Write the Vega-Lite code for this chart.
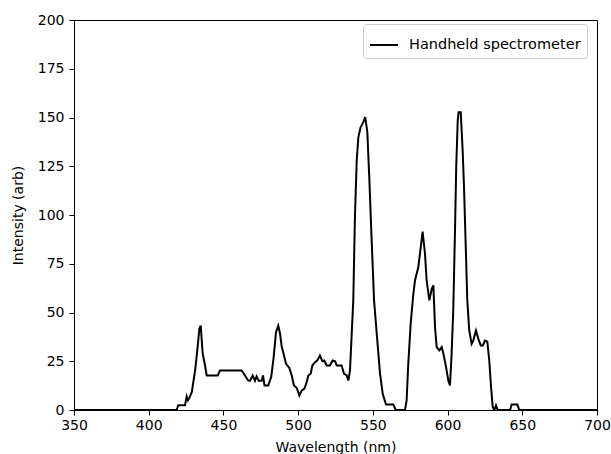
{
  "$schema": "https://vega.github.io/schema/vega-lite/v6.json",
  "width": 523,
  "height": 390,
  "autosize": {"type": "none"},
  "padding": {"left": 74, "top": 20, "right": 14, "bottom": 44},
  "background": "white",
  "config": {
    "view": {"stroke": "black", "strokeWidth": 1},
    "font": "DejaVu Sans",
    "axis": {
      "grid": false,
      "domainColor": "black",
      "tickColor": "black",
      "tickSize": 5,
      "labelFont": "DejaVu Sans",
      "labelFontSize": 14,
      "labelColor": "black",
      "titleFont": "DejaVu Sans",
      "titleFontSize": 14,
      "titleFontWeight": "normal",
      "titleColor": "black"
    }
  },
  "data": {
    "values": [
      {"wavelength": 350, "intensity": 0, "series": "Handheld spectrometer"},
      {"wavelength": 418.7, "intensity": 0, "series": "Handheld spectrometer"},
      {"wavelength": 419.8, "intensity": 2.5, "series": "Handheld spectrometer"},
      {"wavelength": 424.3, "intensity": 2.5, "series": "Handheld spectrometer"},
      {"wavelength": 425.4, "intensity": 7, "series": "Handheld spectrometer"},
      {"wavelength": 426.3, "intensity": 5, "series": "Handheld spectrometer"},
      {"wavelength": 427.2, "intensity": 6.2, "series": "Handheld spectrometer"},
      {"wavelength": 428.8, "intensity": 9.1, "series": "Handheld spectrometer"},
      {"wavelength": 431, "intensity": 20, "series": "Handheld spectrometer"},
      {"wavelength": 432.5, "intensity": 30.5, "series": "Handheld spectrometer"},
      {"wavelength": 433.9, "intensity": 41.8, "series": "Handheld spectrometer"},
      {"wavelength": 434.8, "intensity": 43.3, "series": "Handheld spectrometer"},
      {"wavelength": 436.1, "intensity": 29, "series": "Handheld spectrometer"},
      {"wavelength": 437.7, "intensity": 22.8, "series": "Handheld spectrometer"},
      {"wavelength": 438.8, "intensity": 17.7, "series": "Handheld spectrometer"},
      {"wavelength": 446.2, "intensity": 17.7, "series": "Handheld spectrometer"},
      {"wavelength": 447.7, "intensity": 20.3, "series": "Handheld spectrometer"},
      {"wavelength": 462.2, "intensity": 20.3, "series": "Handheld spectrometer"},
      {"wavelength": 464.4, "intensity": 17.7, "series": "Handheld spectrometer"},
      {"wavelength": 466.6, "intensity": 15.1, "series": "Handheld spectrometer"},
      {"wavelength": 467.8, "intensity": 15, "series": "Handheld spectrometer"},
      {"wavelength": 469.6, "intensity": 17.7, "series": "Handheld spectrometer"},
      {"wavelength": 471.1, "intensity": 15, "series": "Handheld spectrometer"},
      {"wavelength": 472.2, "intensity": 17.3, "series": "Handheld spectrometer"},
      {"wavelength": 473.6, "intensity": 15, "series": "Handheld spectrometer"},
      {"wavelength": 475.6, "intensity": 15, "series": "Handheld spectrometer"},
      {"wavelength": 476.5, "intensity": 17.7, "series": "Handheld spectrometer"},
      {"wavelength": 477.5, "intensity": 12.6, "series": "Handheld spectrometer"},
      {"wavelength": 480, "intensity": 12.6, "series": "Handheld spectrometer"},
      {"wavelength": 482, "intensity": 17, "series": "Handheld spectrometer"},
      {"wavelength": 483.6, "intensity": 27, "series": "Handheld spectrometer"},
      {"wavelength": 485.2, "intensity": 40, "series": "Handheld spectrometer"},
      {"wavelength": 486.7, "intensity": 43.3, "series": "Handheld spectrometer"},
      {"wavelength": 487.9, "intensity": 39.1, "series": "Handheld spectrometer"},
      {"wavelength": 489, "intensity": 32.5, "series": "Handheld spectrometer"},
      {"wavelength": 490, "intensity": 29.6, "series": "Handheld spectrometer"},
      {"wavelength": 491.9, "intensity": 23.7, "series": "Handheld spectrometer"},
      {"wavelength": 494.1, "intensity": 21.6, "series": "Handheld spectrometer"},
      {"wavelength": 495.7, "intensity": 17.7, "series": "Handheld spectrometer"},
      {"wavelength": 497.2, "intensity": 12.6, "series": "Handheld spectrometer"},
      {"wavelength": 499, "intensity": 11.4, "series": "Handheld spectrometer"},
      {"wavelength": 500.8, "intensity": 7.4, "series": "Handheld spectrometer"},
      {"wavelength": 502.4, "intensity": 10, "series": "Handheld spectrometer"},
      {"wavelength": 504.1, "intensity": 10.8, "series": "Handheld spectrometer"},
      {"wavelength": 505.7, "intensity": 14.2, "series": "Handheld spectrometer"},
      {"wavelength": 506.8, "intensity": 17.7, "series": "Handheld spectrometer"},
      {"wavelength": 508.4, "intensity": 18.6, "series": "Handheld spectrometer"},
      {"wavelength": 509.5, "intensity": 22.8, "series": "Handheld spectrometer"},
      {"wavelength": 511.3, "intensity": 24.5, "series": "Handheld spectrometer"},
      {"wavelength": 512.8, "intensity": 25.4, "series": "Handheld spectrometer"},
      {"wavelength": 514.6, "intensity": 27.9, "series": "Handheld spectrometer"},
      {"wavelength": 516.2, "intensity": 25, "series": "Handheld spectrometer"},
      {"wavelength": 517.5, "intensity": 25.4, "series": "Handheld spectrometer"},
      {"wavelength": 519.1, "intensity": 22.8, "series": "Handheld spectrometer"},
      {"wavelength": 521.3, "intensity": 22.8, "series": "Handheld spectrometer"},
      {"wavelength": 523.1, "intensity": 25.4, "series": "Handheld spectrometer"},
      {"wavelength": 524.7, "intensity": 25, "series": "Handheld spectrometer"},
      {"wavelength": 525.8, "intensity": 22.8, "series": "Handheld spectrometer"},
      {"wavelength": 529.1, "intensity": 22.8, "series": "Handheld spectrometer"},
      {"wavelength": 530.7, "intensity": 18.6, "series": "Handheld spectrometer"},
      {"wavelength": 532.5, "intensity": 17.7, "series": "Handheld spectrometer"},
      {"wavelength": 533.6, "intensity": 15.1, "series": "Handheld spectrometer"},
      {"wavelength": 534.7, "intensity": 20.3, "series": "Handheld spectrometer"},
      {"wavelength": 536.9, "intensity": 56.2, "series": "Handheld spectrometer"},
      {"wavelength": 538, "intensity": 98.9, "series": "Handheld spectrometer"},
      {"wavelength": 539.2, "intensity": 128, "series": "Handheld spectrometer"},
      {"wavelength": 540.3, "intensity": 139.9, "series": "Handheld spectrometer"},
      {"wavelength": 541.8, "intensity": 145, "series": "Handheld spectrometer"},
      {"wavelength": 543.6, "intensity": 147.6, "series": "Handheld spectrometer"},
      {"wavelength": 544.9, "intensity": 150.2, "series": "Handheld spectrometer"},
      {"wavelength": 546.3, "intensity": 142.5, "series": "Handheld spectrometer"},
      {"wavelength": 547.6, "intensity": 119.4, "series": "Handheld spectrometer"},
      {"wavelength": 549.2, "intensity": 86.9, "series": "Handheld spectrometer"},
      {"wavelength": 550.8, "intensity": 56.2, "series": "Handheld spectrometer"},
      {"wavelength": 552.6, "intensity": 39.1, "series": "Handheld spectrometer"},
      {"wavelength": 554.8, "intensity": 18.6, "series": "Handheld spectrometer"},
      {"wavelength": 556.6, "intensity": 8.3, "series": "Handheld spectrometer"},
      {"wavelength": 558.8, "intensity": 2.8, "series": "Handheld spectrometer"},
      {"wavelength": 563.7, "intensity": 2.8, "series": "Handheld spectrometer"},
      {"wavelength": 565.3, "intensity": 0, "series": "Handheld spectrometer"},
      {"wavelength": 571.5, "intensity": 0, "series": "Handheld spectrometer"},
      {"wavelength": 572.6, "intensity": 4.9, "series": "Handheld spectrometer"},
      {"wavelength": 573.7, "intensity": 23.7, "series": "Handheld spectrometer"},
      {"wavelength": 575.3, "intensity": 44.2, "series": "Handheld spectrometer"},
      {"wavelength": 577.1, "intensity": 59.6, "series": "Handheld spectrometer"},
      {"wavelength": 578.2, "intensity": 66.4, "series": "Handheld spectrometer"},
      {"wavelength": 580.4, "intensity": 73.2, "series": "Handheld spectrometer"},
      {"wavelength": 581.5, "intensity": 80.1, "series": "Handheld spectrometer"},
      {"wavelength": 583.3, "intensity": 91.5, "series": "Handheld spectrometer"},
      {"wavelength": 584.9, "intensity": 80, "series": "Handheld spectrometer"},
      {"wavelength": 586, "intensity": 66.4, "series": "Handheld spectrometer"},
      {"wavelength": 587.8, "intensity": 56.2, "series": "Handheld spectrometer"},
      {"wavelength": 589.4, "intensity": 62.2, "series": "Handheld spectrometer"},
      {"wavelength": 590.5, "intensity": 63.9, "series": "Handheld spectrometer"},
      {"wavelength": 591.6, "intensity": 42.5, "series": "Handheld spectrometer"},
      {"wavelength": 592.7, "intensity": 32.3, "series": "Handheld spectrometer"},
      {"wavelength": 594.5, "intensity": 30.6, "series": "Handheld spectrometer"},
      {"wavelength": 596.1, "intensity": 32.3, "series": "Handheld spectrometer"},
      {"wavelength": 597.2, "intensity": 28.9, "series": "Handheld spectrometer"},
      {"wavelength": 599, "intensity": 22, "series": "Handheld spectrometer"},
      {"wavelength": 600.5, "intensity": 15.1, "series": "Handheld spectrometer"},
      {"wavelength": 601.6, "intensity": 12.6, "series": "Handheld spectrometer"},
      {"wavelength": 602.6, "intensity": 27, "series": "Handheld spectrometer"},
      {"wavelength": 603.8, "intensity": 51, "series": "Handheld spectrometer"},
      {"wavelength": 605, "intensity": 93, "series": "Handheld spectrometer"},
      {"wavelength": 605.8, "intensity": 125, "series": "Handheld spectrometer"},
      {"wavelength": 606.8, "intensity": 148.5, "series": "Handheld spectrometer"},
      {"wavelength": 607.4, "intensity": 152.7, "series": "Handheld spectrometer"},
      {"wavelength": 608.8, "intensity": 152.7, "series": "Handheld spectrometer"},
      {"wavelength": 610.1, "intensity": 133, "series": "Handheld spectrometer"},
      {"wavelength": 611, "intensity": 114.3, "series": "Handheld spectrometer"},
      {"wavelength": 612.3, "intensity": 80.1, "series": "Handheld spectrometer"},
      {"wavelength": 613.2, "intensity": 56.2, "series": "Handheld spectrometer"},
      {"wavelength": 614.5, "intensity": 40.8, "series": "Handheld spectrometer"},
      {"wavelength": 616.1, "intensity": 33.9, "series": "Handheld spectrometer"},
      {"wavelength": 617.2, "intensity": 35.6, "series": "Handheld spectrometer"},
      {"wavelength": 619, "intensity": 40.8, "series": "Handheld spectrometer"},
      {"wavelength": 620.6, "intensity": 36.5, "series": "Handheld spectrometer"},
      {"wavelength": 622.2, "intensity": 33.1, "series": "Handheld spectrometer"},
      {"wavelength": 623.6, "intensity": 33.1, "series": "Handheld spectrometer"},
      {"wavelength": 625, "intensity": 35.6, "series": "Handheld spectrometer"},
      {"wavelength": 626.6, "intensity": 35, "series": "Handheld spectrometer"},
      {"wavelength": 627.9, "intensity": 25.4, "series": "Handheld spectrometer"},
      {"wavelength": 629.1, "intensity": 11.7, "series": "Handheld spectrometer"},
      {"wavelength": 630.2, "intensity": 1.5, "series": "Handheld spectrometer"},
      {"wavelength": 631.3, "intensity": 0, "series": "Handheld spectrometer"},
      {"wavelength": 632.4, "intensity": 2.3, "series": "Handheld spectrometer"},
      {"wavelength": 633.5, "intensity": 0, "series": "Handheld spectrometer"},
      {"wavelength": 641.8, "intensity": 0, "series": "Handheld spectrometer"},
      {"wavelength": 642.9, "intensity": 2.8, "series": "Handheld spectrometer"},
      {"wavelength": 646.7, "intensity": 2.8, "series": "Handheld spectrometer"},
      {"wavelength": 648, "intensity": 0, "series": "Handheld spectrometer"},
      {"wavelength": 700, "intensity": 0, "series": "Handheld spectrometer"}
    ]
  },
  "mark": {"type": "line", "strokeWidth": 2, "interpolate": "linear", "clip": true},
  "encoding": {
    "x": {
      "field": "wavelength",
      "type": "quantitative",
      "scale": {"domain": [350, 700], "nice": false},
      "axis": {"values": [350, 400, 450, 500, 550, 600, 650, 700], "title": "Wavelength (nm)", "labelPadding": 3, "titlePadding": 8, "labelFlush": false}
    },
    "y": {
      "field": "intensity",
      "type": "quantitative",
      "scale": {"domain": [0, 200], "nice": false},
      "axis": {"values": [0, 25, 50, 75, 100, 125, 150, 175, 200], "title": "Intensity (arb)", "labelPadding": 5, "titlePadding": 12, "labelFlush": false}
    },
    "color": {
      "field": "series",
      "type": "nominal",
      "scale": {"range": ["black"]},
      "legend": {
        "title": null,
        "orient": "none",
        "legendX": 289,
        "legendY": 4,
        "symbolType": "stroke",
        "symbolSize": 784,
        "symbolStrokeWidth": 2,
        "labelFontSize": 14.5,
        "labelFont": "DejaVu Sans",
        "labelColor": "black",
        "labelLimit": 400,
        "labelOffset": 10,
        "padding": 6,
        "strokeColor": "#cccccc",
        "cornerRadius": 3,
        "fillColor": "white"
      }
    }
  }
}
